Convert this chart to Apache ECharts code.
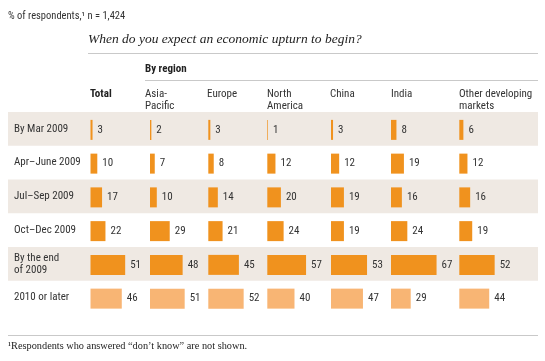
<!DOCTYPE html>
<html>
<head>
<meta charset="utf-8">
<script src="https://cdn.jsdelivr.net/npm/echarts@6/dist/echarts.min.js"></script>
<style>html,body{margin:0;padding:0;background:#fff}#c{width:545px;height:361px}</style>
</head>
<body>
<div id="c"></div>
<script>
var categories = ['By Mar 2009', 'Apr\u2013June 2009', 'Jul\u2013Sep 2009', 'Oct\u2013Dec 2009', 'By the end\nof 2009', '2010 or later'];
var columns = ['Total', 'Asia-\nPacific', 'Europe', 'North\nAmerica', 'China', 'India', 'Other developing\nmarkets'];
var total = [3, 10, 17, 22, 51, 46];
var asiaPacific = [2, 7, 10, 29, 48, 51];
var europe = [3, 8, 14, 21, 45, 52];
var northAmerica = [1, 12, 20, 24, 57, 40];
var china = [3, 12, 19, 19, 53, 47];
var india = [8, 19, 16, 24, 67, 29];
var otherDeveloping = [6, 12, 16, 19, 52, 44];
var seriesValues = [total, asiaPacific, europe, northAmerica, china, india, otherDeveloping];

var FONT = "'Roboto Condensed', 'DejaVu Sans Condensed', sans-serif";
var SERIF = "'Liberation Serif', 'DejaVu Serif', serif";
var DARK = '#F0921E', LIGHT = '#F8B574', BAND = '#EFE9E3', TXT = '#333333', RULE = '#C9C9C9';
var colLeft = [90.5, 150, 208.3, 267.3, 331, 391, 459.3];
var bandTop = 112, rowH = 33.75;

var grids = [{ left: 8, right: 7, top: bandTop, height: rowH * 6 }];
var xAxes = [{ gridIndex: 0, type: 'value', show: false, min: 0, max: 100 }];
var yAxes = [{
  gridIndex: 0, type: 'category', data: categories, inverse: true,
  axisLine: { show: false }, axisTick: { show: false },
  splitArea: { show: true, areaStyle: { color: [BAND, 'rgba(255,255,255,0)'] } },
  axisLabel: { inside: true, margin: 6, color: TXT, fontFamily: FONT, fontSize: 11, lineHeight: 12, align: 'left' }
}];
var series = [];
seriesValues.forEach(function (vals, i) {
  var gi = i + 1;
  grids.push({ left: colLeft[i], width: 68, top: bandTop + 1, height: rowH * 6 });
  xAxes.push({ gridIndex: gi, type: 'value', show: false, min: 0, max: 100 });
  yAxes.push({ gridIndex: gi, type: 'category', data: categories, inverse: true, show: false });
  series.push({
    type: 'bar', xAxisIndex: gi, yAxisIndex: gi, barWidth: 20, silent: true,
    data: vals.map(function (v, r) { return { value: v, itemStyle: { color: r === 5 ? LIGHT : DARK } }; }),
    label: { show: true, position: 'right', distance: 5, color: TXT, fontFamily: FONT, fontSize: 11 }
  });
});

var graphics = [
  { type: 'text', left: 8, top: 11, style: { text: '% of respondents,\u00B9 n = 1,424', font: '10.5px ' + FONT, fill: TXT } },
  { type: 'text', left: 88, top: 32, style: { text: 'When do you expect an economic upturn to begin?', font: 'italic 13.5px ' + SERIF, fill: '#222' } },
  { type: 'line', shape: { x1: 88, y1: 53.5, x2: 538, y2: 53.5 }, style: { stroke: RULE, lineWidth: 1 } },
  { type: 'text', left: 145, top: 64, style: { text: 'By region', font: 'bold 11px ' + FONT, fill: '#222' } },
  { type: 'line', shape: { x1: 145, y1: 80.5, x2: 538, y2: 80.5 }, style: { stroke: RULE, lineWidth: 1 } },
  { type: 'line', shape: { x1: 8, y1: 335.5, x2: 538, y2: 335.5 }, style: { stroke: RULE, lineWidth: 1 } },
  { type: 'text', left: 8, top: 341, style: { text: '\u00B9Respondents who answered \u201Cdon\u2019t know\u201D are not shown.', font: '10.3px ' + SERIF, fill: '#222' } }
];
var headX = [90, 145, 207, 267, 330, 391, 459];
columns.forEach(function (c, i) {
  graphics.push({ type: 'text', left: headX[i], top: 88, style: { text: c, font: (i === 0 ? 'bold ' : '') + '11px ' + FONT, fill: i === 0 ? '#222' : TXT, lineHeight: 12 } });
});

var chart = echarts.init(document.getElementById('c'), null, { renderer: 'canvas' });
chart.setOption({
  animation: false,
  backgroundColor: '#fff',
  grid: grids, xAxis: xAxes, yAxis: yAxes, series: series, graphic: graphics
});
</script>
</body>
</html>
